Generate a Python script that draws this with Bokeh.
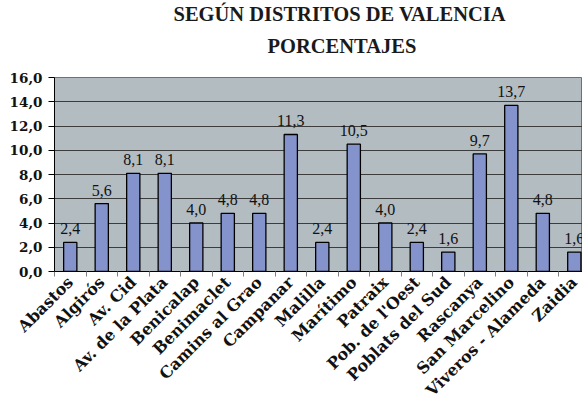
from bokeh.plotting import figure
from bokeh.models import Range1d, FixedTicker, ColumnDataSource, LabelSet, Title
from bokeh.embed import file_html
from bokeh.resources import INLINE

districts = ["Abastos", "Algirós", "Av. Cid", "Av. de la Plata", "Benicalap",
             "Benimaclet", "Camins al Grao", "Campanar", "Malilla", "Marítimo",
             "Patraix", "Pob. de l'Oest", "Poblats del Sud", "Rascanya",
             "San Marcelino", "Viveros - Alameda", "Zaidia"]
values = [2.4, 5.6, 8.1, 8.1, 4.0, 4.8, 4.8, 11.3, 2.4, 10.5, 4.0, 2.4, 1.6,
          9.7, 13.7, 4.8, 1.6]
y_ticks = [0, 2, 4, 6, 8, 10, 12, 14, 16]

xs = [i + 0.5 for i in range(len(districts))]
labels = [f"{v:.1f}".replace(".", ",") for v in values]
src = ColumnDataSource(dict(x=xs, top=values, label=labels))

p = figure(width=582, height=411, x_range=Range1d(0, 16.76), y_range=Range1d(0, 16),
           output_backend="svg", toolbar_location=None,
           min_border_left=54, min_border_right=0, min_border_top=76,
           min_border_bottom=140)
p.title = None

spacer = Title(text=" ", text_font_size="2px", standoff=9)
t2 = Title(text="PORCENTAJES", align="left", offset=213,
           text_font="Liberation Serif", text_font_size="20.5px",
           text_font_style="bold", text_color="#1a1a1a", standoff=15)
t1 = Title(text="SEGÚN DISTRITOS DE VALENCIA", align="left", offset=119,
           text_font="Liberation Serif", text_font_size="20.5px",
           text_font_style="bold", text_color="#1a1a1a", standoff=1)
p.add_layout(spacer, "above")
p.add_layout(t2, "above")
p.add_layout(t1, "above")

p.background_fill_color = "#b3bcc1"
p.border_fill_color = "white"
p.outline_line_color = "#707070"

p.vbar(x="x", top="top", width=0.42, bottom=0, source=src,
       fill_color="#8493cc", line_color="black", line_width=1.3)

p.add_layout(LabelSet(x="x", y="top", text="label", source=src,
                      text_align="center", text_baseline="alphabetic",
                      y_offset=8, text_font="Liberation Sans",
                      text_font_size="16px", text_color="#111111"))

p.xgrid.grid_line_color = None
p.ygrid.grid_line_color = "#3c3c3c"
p.ygrid.grid_line_width = 1

p.yaxis.ticker = FixedTicker(ticks=y_ticks)
p.yaxis.major_label_overrides = {t: f"{t:.1f}".replace(".", ",") for t in y_ticks}
p.yaxis.major_label_text_font = "DejaVu Serif"
p.yaxis.major_label_text_font_style = "bold"
p.yaxis.major_label_text_font_size = "13.5px"
p.yaxis.major_label_text_color = "#111111"
p.yaxis.axis_line_color = "black"
p.yaxis.major_tick_line_color = "black"
p.yaxis.major_tick_in = 0
p.yaxis.major_tick_out = 6
p.yaxis.minor_tick_line_color = None
p.yaxis.major_label_standoff = 6

p.xaxis.ticker = FixedTicker(ticks=xs, minor_ticks=list(range(len(districts) + 1)))
p.xaxis.major_label_overrides = {x: d for x, d in zip(xs, districts)}
p.xaxis.major_label_orientation = 0.785398
p.xaxis.major_label_text_font = "DejaVu Serif"
p.xaxis.major_label_text_font_style = "bold"
p.xaxis.major_label_text_font_size = "16px"
p.xaxis.major_label_text_color = "#111111"
p.xaxis.major_tick_line_color = None
p.xaxis.minor_tick_line_color = "#808080"
p.xaxis.minor_tick_in = 0
p.xaxis.minor_tick_out = 5
p.xaxis.axis_line_color = "black"
p.xaxis.major_label_standoff = 2

open("out.html", "w").write(file_html(p, INLINE))
